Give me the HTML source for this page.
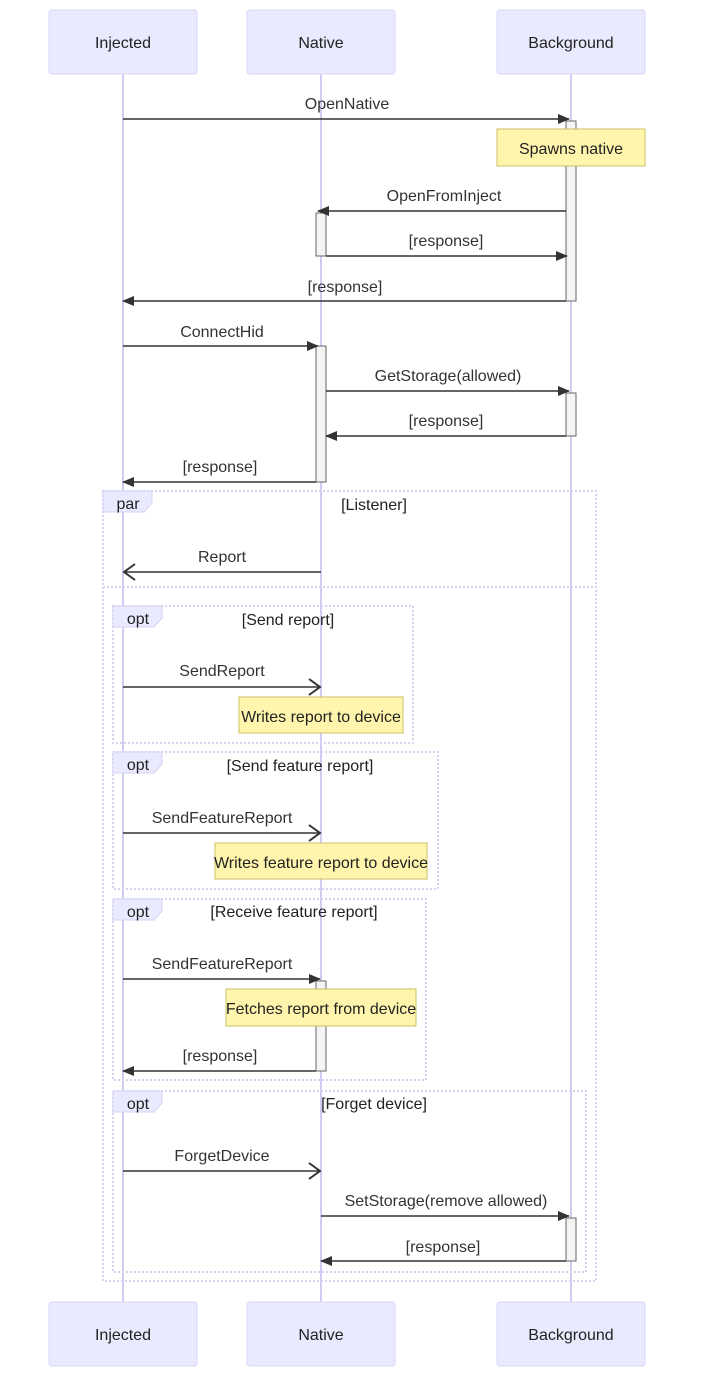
<!DOCTYPE html>
<html><head><meta charset="utf-8"><style>
html,body{margin:0;padding:0;background:#fff;}
svg{display:block;font-family:"Liberation Sans",Arial,sans-serif;}
.act{fill:#eaeaff;stroke:#d8d6f8;stroke-width:1;}
.life{stroke:#d0cdf5;stroke-width:2;}
.msg{stroke:#333;stroke-width:1.5;fill:none;}
.lbl{font-size:16px;fill:#333;text-anchor:middle;}
.an{font-size:16px;fill:#222;text-anchor:middle;}
.actv{fill:#f4f4f4;stroke:#666;stroke-width:1;}
.note{fill:#fff5ad;stroke:#c8c262;stroke-width:1;}
.loop{fill:none;stroke:#d6d2f4;stroke-width:2;stroke-dasharray:2 2;}
.tab{fill:#eaeaff;stroke:#d6d2f4;stroke-width:1;}
.lt{font-size:16px;fill:#222;text-anchor:middle;}
</style></head><body>
<svg width="703" height="1393" viewBox="0 0 703 1393" xmlns="http://www.w3.org/2000/svg">
<defs>
<marker id="f" markerWidth="12" markerHeight="12" refX="11" refY="5" orient="auto" markerUnits="userSpaceOnUse"><path d="M0,0 L12,5 L0,10 z" fill="#333"/></marker>
<marker id="o" markerWidth="14" markerHeight="20" refX="12" refY="10" orient="auto" markerUnits="userSpaceOnUse"><path d="M1,2 L12,10 L1,18" fill="none" stroke="#333" stroke-width="2"/></marker>
</defs>
<!-- lifelines -->
<line class="life" x1="123" y1="74" x2="123" y2="1302"/>
<line class="life" x1="321" y1="74" x2="321" y2="1302"/>
<line class="life" x1="571" y1="74" x2="571" y2="1302"/>
<!-- actors -->
<rect class="act" x="49" y="10" width="148" height="64" rx="3"/><text class="an" x="123" y="48">Injected</text>
<rect class="act" x="247" y="10" width="148" height="64" rx="3"/><text class="an" x="321" y="48">Native</text>
<rect class="act" x="497" y="10" width="148" height="64" rx="3"/><text class="an" x="571" y="48">Background</text>
<rect class="act" x="49" y="1302" width="148" height="64" rx="3"/><text class="an" x="123" y="1340">Injected</text>
<rect class="act" x="247" y="1302" width="148" height="64" rx="3"/><text class="an" x="321" y="1340">Native</text>
<rect class="act" x="497" y="1302" width="148" height="64" rx="3"/><text class="an" x="571" y="1340">Background</text>
<!-- loops -->
<rect class="loop" x="103" y="491" width="493" height="790"/>
<line class="loop" x1="103" y1="587" x2="596" y2="587"/>
<path class="tab" d="M103,491 H152 V503 L144,512 H103 z"/><text class="lt" x="128" y="509">par</text>
<text class="lt" x="374" y="510">[Listener]</text>
<rect class="loop" x="113" y="606" width="300" height="137"/>
<path class="tab" d="M113,606 H162 V618 L154,627 H113 z"/><text class="lt" x="138" y="624">opt</text>
<text class="lt" x="288" y="625">[Send report]</text>
<rect class="loop" x="113" y="752" width="325" height="137"/>
<path class="tab" d="M113,752 H162 V764 L154,773 H113 z"/><text class="lt" x="138" y="770">opt</text>
<text class="lt" x="300" y="771">[Send feature report]</text>
<rect class="loop" x="113" y="899" width="313" height="181"/>
<path class="tab" d="M113,899 H162 V911 L154,920 H113 z"/><text class="lt" x="138" y="917">opt</text>
<text class="lt" x="294" y="917">[Receive feature report]</text>
<rect class="loop" x="113" y="1091" width="473" height="181"/>
<path class="tab" d="M113,1091 H162 V1103 L154,1112 H113 z"/><text class="lt" x="138" y="1109">opt</text>
<text class="lt" x="374" y="1109">[Forget device]</text>
<!-- activations -->
<rect class="actv" x="566" y="121" width="10" height="180"/>
<rect class="actv" x="316" y="213" width="10" height="43"/>
<rect class="actv" x="316" y="346" width="10" height="136"/>
<rect class="actv" x="566" y="393" width="10" height="43"/>
<rect class="actv" x="316" y="981" width="10" height="90"/>
<rect class="actv" x="566" y="1218" width="10" height="43"/>
<!-- notes -->
<rect class="note" x="497" y="129" width="148" height="37"/><text class="an" x="571" y="154">Spawns native</text>
<rect class="note" x="239" y="697" width="164" height="36"/><text class="an" x="321" y="722">Writes report to device</text>
<rect class="note" x="215" y="843" width="212" height="36"/><text class="an" x="321" y="868">Writes feature report to device</text>
<rect class="note" x="226" y="989" width="190" height="37"/><text class="an" x="321" y="1014">Fetches report from device</text>
<!-- messages -->
<text class="lbl" x="347" y="109">OpenNative</text><line class="msg" x1="123" y1="119" x2="569" y2="119" marker-end="url(#f)"/>
<text class="lbl" x="444" y="201">OpenFromInject</text><line class="msg" x1="566" y1="211" x2="318" y2="211" marker-end="url(#f)"/>
<text class="lbl" x="446" y="246">[response]</text><line class="msg" x1="326" y1="256" x2="567" y2="256" marker-end="url(#f)"/>
<text class="lbl" x="345" y="292">[response]</text><line class="msg" x1="566" y1="301" x2="123" y2="301" marker-end="url(#f)"/>
<text class="lbl" x="222" y="337">ConnectHid</text><line class="msg" x1="123" y1="346" x2="318" y2="346" marker-end="url(#f)"/>
<text class="lbl" x="448" y="381">GetStorage(allowed)</text><line class="msg" x1="326" y1="391" x2="569" y2="391" marker-end="url(#f)"/>
<text class="lbl" x="446" y="426">[response]</text><line class="msg" x1="566" y1="436" x2="326" y2="436" marker-end="url(#f)"/>
<text class="lbl" x="220" y="472">[response]</text><line class="msg" x1="316" y1="482" x2="123" y2="482" marker-end="url(#f)"/>
<text class="lbl" x="222" y="562">Report</text><line class="msg" x1="321" y1="572" x2="124" y2="572" marker-end="url(#o)"/>
<text class="lbl" x="222" y="676">SendReport</text><line class="msg" x1="123" y1="687" x2="320" y2="687" marker-end="url(#o)"/>
<text class="lbl" x="222" y="823">SendFeatureReport</text><line class="msg" x1="123" y1="833" x2="320" y2="833" marker-end="url(#o)"/>
<text class="lbl" x="222" y="969">SendFeatureReport</text><line class="msg" x1="123" y1="979" x2="320" y2="979" marker-end="url(#f)"/>
<text class="lbl" x="220" y="1061">[response]</text><line class="msg" x1="316" y1="1071" x2="123" y2="1071" marker-end="url(#f)"/>
<text class="lbl" x="222" y="1161">ForgetDevice</text><line class="msg" x1="123" y1="1171" x2="320" y2="1171" marker-end="url(#o)"/>
<text class="lbl" x="446" y="1206">SetStorage(remove allowed)</text><line class="msg" x1="321" y1="1216" x2="569" y2="1216" marker-end="url(#f)"/>
<text class="lbl" x="443" y="1252">[response]</text><line class="msg" x1="566" y1="1261" x2="321" y2="1261" marker-end="url(#f)"/>
</svg>
</body></html>
